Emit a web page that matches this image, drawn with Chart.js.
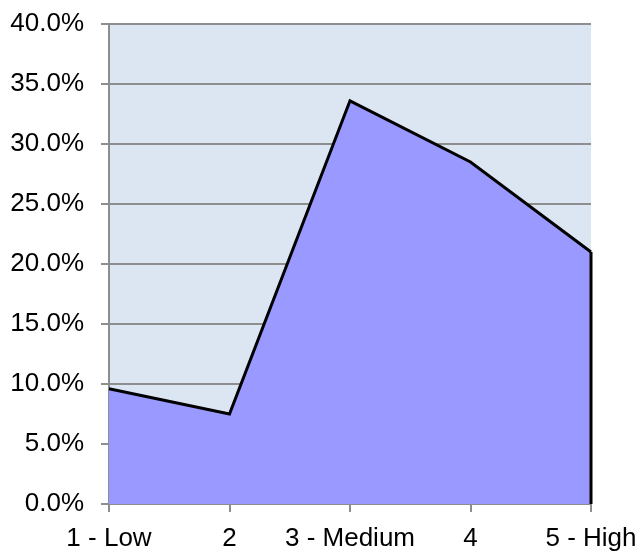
<!DOCTYPE html>
<html>
<head>
<meta charset="utf-8">
<script src="https://cdn.jsdelivr.net/npm/chart.js@4"></script>
<style>
html,body{margin:0;padding:0;background:#fff;}
#wrap{width:640px;height:554px;position:relative;}
</style>
</head>
<body>
<div id="wrap"><canvas id="c" width="640" height="554"></canvas></div>
<script>
const categories = ["1 - Low", "2", "3 - Medium", "4", "5 - High"];
const values = [9.6, 7.5, 33.6, 28.5, 21.0];
const yTicks = [0, 5, 10, 15, 20, 25, 30, 35, 40];

const gridGray = '#8e8e8e';
const font = {family: '"Liberation Sans", Arial, sans-serif', size: 26};

const plotBg = {
  id: 'plotBg',
  beforeDraw(chart) {
    const {ctx, chartArea: a} = chart;
    ctx.save();
    ctx.fillStyle = '#dce6f2';
    ctx.fillRect(a.left, a.top, a.right - a.left, a.bottom - a.top);
    ctx.restore();
  }
};

const rightEdge = {
  id: 'rightEdge',
  afterDatasetsDraw(chart) {
    const meta = chart.getDatasetMeta(0);
    const last = meta.data[meta.data.length - 1];
    const y0 = chart.scales.y.getPixelForValue(0);
    const ctx = chart.ctx;
    ctx.save();
    ctx.strokeStyle = '#000';
    ctx.lineWidth = 3;
    ctx.beginPath();
    ctx.moveTo(last.x, last.y);
    ctx.lineTo(last.x, y0);
    ctx.stroke();
    ctx.restore();
  }
};

function zeroPad(s) { s.paddingTop = 0; s.paddingBottom = 0; s.paddingLeft = 0; s.paddingRight = 0; }

new Chart(document.getElementById('c'), {
  type: 'line',
  data: {
    labels: categories,
    datasets: [{
      data: values,
      fill: 'origin',
      backgroundColor: '#9999ff',
      borderColor: '#000000',
      borderWidth: 3,
      pointRadius: 0,
      tension: 0,
      clip: false
    }]
  },
  options: {
    responsive: false,
    animation: false,
    devicePixelRatio: 1,
    layout: {padding: {top: 24, right: 49, left: 0, bottom: 0}},
    plugins: {legend: {display: false}, tooltip: {enabled: false}},
    scales: {
      x: {
        type: 'category',
        offset: false,
        grid: {display: true, drawOnChartArea: false, drawTicks: true, tickLength: 8, color: gridGray, lineWidth: 2},
        border: {display: true, color: gridGray, width: 2},
        ticks: {font: font, color: '#000', padding: 11, maxRotation: 0, autoSkip: false},
        afterFit(s) { s.height = 50; zeroPad(s); }
      },
      y: {
        min: 0, max: 40,
        afterBuildTicks(s) { s.ticks = yTicks.map(v => ({value: v})); },
        grid: {color: gridGray, lineWidth: 2, tickLength: 8, drawTicks: true},
        border: {display: true, color: gridGray, width: 2},
        ticks: {font: font, color: '#000', padding: 17, callback: v => v.toFixed(1) + '%'},
        afterFit(s) { s.width = 109; zeroPad(s); }
      }
    }
  },
  plugins: [plotBg, rightEdge]
});
</script>
</body>
</html>
